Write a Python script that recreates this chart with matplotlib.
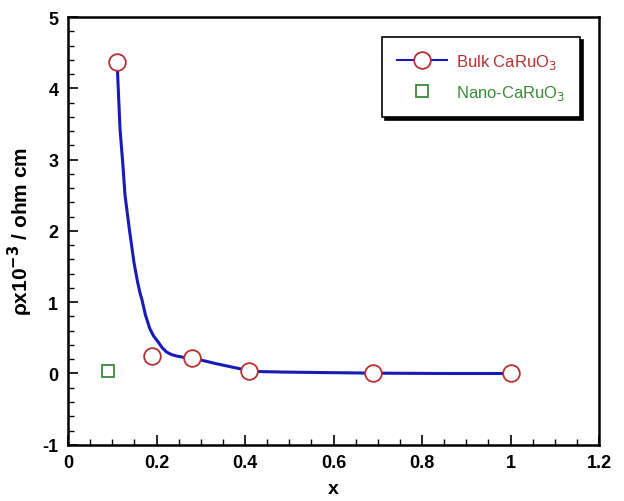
import matplotlib
matplotlib.use('Agg')
import matplotlib.pyplot as plt
from matplotlib.lines import Line2D
from matplotlib.ticker import MultipleLocator

plt.rcParams['font.family'] = ['Liberation Sans', 'DejaVu Sans']
plt.rcParams['axes.unicode_minus'] = False

# data
bulk_x = [0.11, 0.19, 0.28, 0.41, 0.69, 1.0]
bulk_y = [4.37, 0.25, 0.22, 0.03, 0.0, 0.0]
nano_x = [0.09]
nano_y = [0.04]
# smooth guide curve
curve_x = [0.110, 0.1114, 0.1175, 0.1236, 0.1288, 0.1385, 0.149, 0.157, 0.163,
           0.1666, 0.175, 0.185, 0.194, 0.204, 0.213, 0.223, 0.234, 0.246,
           0.260, 0.276, 0.298, 0.336, 0.389, 0.426, 0.486, 0.55, 0.69,
           0.85, 1.0]
curve_y = [4.37, 4.30, 3.43, 2.96, 2.50, 2.03, 1.56, 1.29, 1.12,
           1.047, 0.82, 0.626, 0.52, 0.44, 0.36, 0.30, 0.265, 0.244,
           0.228, 0.216, 0.192, 0.136, 0.066, 0.028, 0.02, 0.015, 0.005,
           0.0, 0.0]

fig = plt.figure(figsize=(6.24, 5.02), dpi=100)
ax = fig.add_axes([0.109, 0.112, 0.851, 0.852])

blue = '#1a1ab8'
red = '#b83030'
green = '#3a8a3a'

ax.plot(curve_x, curve_y, color=blue, lw=2.2, zorder=2, solid_joinstyle='round')
ax.plot(bulk_x, bulk_y, 'o', ms=12, mfc='white', mec=red, mew=1.3, zorder=3)
ax.plot(nano_x, nano_y, 's', ms=9, mfc='white', mec=green, mew=1.3, zorder=3)

ax.set_xlim(0, 1.2)
ax.set_ylim(-1, 5)
ax.xaxis.set_minor_locator(MultipleLocator(0.05))
ax.yaxis.set_major_locator(MultipleLocator(1))
ax.yaxis.set_minor_locator(MultipleLocator(0.2))
ax.set_xticks([0, 0.2, 0.4, 0.6, 0.8, 1.0, 1.2])
ax.set_xticklabels(['0', '0.2', '0.4', '0.6', '0.8', '1', '1.2'])
ax.tick_params(which='both', direction='in', top=False, right=False)
ax.tick_params(which='major', length=7, width=1.2, labelsize=13, pad=7)
ax.tick_params(which='minor', length=4, width=1)
for lab in ax.get_xticklabels() + ax.get_yticklabels():
    lab.set_fontweight('bold')
for s in ax.spines.values():
    s.set_linewidth(1.8)

ax.set_xlabel('x', fontsize=14, fontweight='bold', labelpad=6)
ax.set_ylabel(r'ρx10$^{\mathbf{-3}}$ / ohm cm', fontsize=15,
              fontweight='bold', labelpad=5)

handles = [
    Line2D([], [], color=blue, lw=1.5, marker='o', ms=12, mfc='white', mec=red, mew=1.3),
    Line2D([], [], ls='none', marker='s', ms=9, mfc='white', mec=green, mew=1.3),
]
leg = ax.legend(handles, ['Bulk CaRuO$_3$', 'Nano-CaRuO$_3$'], loc='upper right',
                bbox_to_anchor=(0.964, 0.953), borderaxespad=0, fontsize=12,
                frameon=True, fancybox=False,
                shadow={'color': 'black', 'alpha': 1},
                edgecolor='black', framealpha=1, borderpad=0.9,
                handlelength=3.0, labelspacing=0.7, handletextpad=0.5)
leg.get_frame().set_linewidth(1.2)
leg.get_texts()[0].set_color(red)
leg.get_texts()[1].set_color(green)

fig.savefig('out.png', dpi=100)
